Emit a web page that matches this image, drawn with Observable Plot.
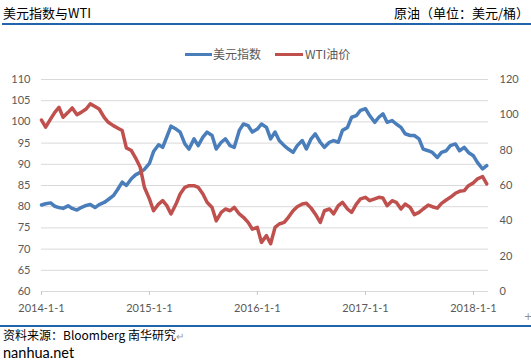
<!DOCTYPE html>
<html>
<head>
<meta charset="utf-8">
<script src="https://cdn.jsdelivr.net/npm/d3@7"></script>
<script src="https://cdn.jsdelivr.net/npm/@observablehq/plot@0.6"></script>
<style>
  html, body { margin: 0; padding: 0; background: #fff; }
  #wrap { position: relative; width: 531px; height: 362px; background: #fff; }
  #chart { position: absolute; left: 0; top: 0; }
  .t { position: absolute; white-space: nowrap; }
  .cjk { font-family: "Noto Sans CJK SC", sans-serif; }
  .bar { position: absolute; }
</style>
</head>
<body>
<div id="wrap">
  <div id="chart"></div>
  <div class="t cjk" style="left:3px;top:6px;font-size:13px;line-height:13px;color:#000;">美元指数与WTI</div>
  <div class="t cjk" style="right:2px;top:6px;font-size:13px;line-height:13px;color:#000;">原油（单位：美元/桶）</div>
  <div class="bar" style="left:2px;top:23px;width:529px;height:2px;background:#1f64ad;"></div>

  <div class="bar" style="left:185px;top:52.5px;width:27px;height:3px;background:#4a7ebb;"></div>
  <div class="t cjk" style="left:213px;top:48px;font-size:12px;line-height:12px;color:#595959;">美元指数</div>
  <div class="bar" style="left:275px;top:52.5px;width:28px;height:3px;background:#c0504d;"></div>
  <div class="t cjk" style="left:305px;top:48px;font-size:12px;line-height:12px;color:#595959;">WTI油价</div>

  <div class="t" style="left:524px;top:312px;font-size:10px;line-height:10px;color:#8c8c8c;font-family:'DejaVu Sans',sans-serif;">+</div>
  <div class="bar" style="left:0px;top:324.5px;width:531px;height:2px;background:#1f64ad;"></div>
  <div class="t cjk" style="left:3px;top:328.5px;font-size:12px;line-height:12px;color:#000;">资料来源：Bloomberg 南华研究<span style="color:#999;font-size:10px;">↵</span></div>
  <div class="t" style="left:3px;top:345.6px;font-size:14.5px;line-height:14.5px;color:#000;font-family:Lato,sans-serif;">nanhua.net</div>
</div>
<script>
// ---- data (semi-monthly readings) ----
const dates = [
 "2014-01-01","2014-01-15","2014-02-01","2014-02-15","2014-03-01","2014-03-15","2014-04-01","2014-04-15","2014-05-01","2014-05-15",
 "2014-06-01","2014-06-15","2014-07-01","2014-07-15","2014-08-01","2014-08-15","2014-09-01","2014-09-15","2014-10-01","2014-10-15",
 "2014-11-01","2014-11-15","2014-12-01","2014-12-15","2015-01-01","2015-01-15","2015-02-01","2015-02-15","2015-03-01","2015-03-15",
 "2015-04-01","2015-04-15","2015-05-01","2015-05-15","2015-06-01","2015-06-15","2015-07-01","2015-07-15","2015-08-01","2015-08-15",
 "2015-09-01","2015-09-15","2015-10-01","2015-10-15","2015-11-01","2015-11-15","2015-12-01","2015-12-15","2016-01-01","2016-01-15",
 "2016-02-01","2016-02-15","2016-03-01","2016-03-15","2016-04-01","2016-04-15","2016-05-01","2016-05-15","2016-06-01","2016-06-15",
 "2016-07-01","2016-07-15","2016-08-01","2016-08-15","2016-09-01","2016-09-15","2016-10-01","2016-10-15","2016-11-01","2016-11-15",
 "2016-12-01","2016-12-15","2017-01-01","2017-01-15","2017-02-01","2017-02-15","2017-03-01","2017-03-15","2017-04-01","2017-04-15",
 "2017-05-01","2017-05-15","2017-06-01","2017-06-15","2017-07-01","2017-07-15","2017-08-01","2017-08-15","2017-09-01","2017-09-15",
 "2017-10-01","2017-10-15","2017-11-01","2017-11-15","2017-12-01","2017-12-15","2018-01-01","2018-01-15","2018-02-01","2018-02-15"
];
const dollarIndex = [
 80.4,80.7,80.9,80.1,79.8,79.6,80.2,79.6,79.2,79.8,
 80.3,80.5,79.8,80.5,81.0,81.7,82.6,84.0,85.8,85.0,
 86.6,87.5,88.1,88.8,90.2,93.0,94.6,94.0,96.5,99.0,
 98.3,97.6,94.8,93.6,96.0,94.4,96.4,97.6,96.8,93.6,
 95.2,96.0,94.4,94.0,98.0,99.5,99.1,97.6,98.3,99.5,
 98.7,96.0,97.6,95.6,94.4,93.6,92.8,94.4,95.6,93.6,
 96.0,97.2,95.2,94.0,95.2,95.6,95.2,98.0,98.7,101.1,
 101.5,102.7,103.1,101.5,99.9,101.1,101.9,99.9,100.3,99.5,
 98.7,97.2,96.8,96.8,96.0,93.6,93.2,92.8,91.6,92.8,
 93.2,94.4,94.8,93.2,94.0,92.8,92.0,90.4,88.9,89.7
];
const wtiPrice = [
 97.0,93.0,97.7,101.4,104.3,98.6,101.4,103.9,100.1,101.4,
 103.3,106.2,104.7,103.3,98.6,95.8,93.9,92.6,91.1,81.3,
 79.8,75.7,70.3,59.0,52.4,45.7,49.5,51.4,48.6,43.9,
 49.5,55.2,59.0,59.9,59.9,59.0,55.2,50.5,47.6,40.0,
 44.8,46.7,45.7,47.6,43.9,42.0,39.1,35.3,36.3,27.8,
 31.6,27.0,36.3,38.2,39.1,42.0,45.7,48.0,49.5,49.9,
 47.2,43.9,39.1,45.7,46.7,43.9,48.6,50.5,46.7,44.8,
 49.5,52.4,53.3,51.4,52.4,53.3,52.9,48.6,51.4,50.5,
 46.7,49.5,47.6,43.5,44.8,46.7,48.9,48.0,47.2,49.9,
 51.8,53.3,55.6,56.7,57.1,59.9,61.5,63.8,65.1,60.9
];
const xTickDates = ["2014-01-01","2015-01-01","2016-01-01","2017-01-01","2018-01-01"];
const leftTicks = [60,65,70,75,80,85,90,95,100,105,110];
const rightTicks = [0,20,40,60,80,100,120];
const xDomain = ["2014-01-01","2018-02-21"];

// ---- build ----
const parse = d3.utcParse("%Y-%m-%d");
const leftMin = 60, leftMax = 110, rightMax = 120;
const toLeft = v => leftMin + v * (leftMax - leftMin) / rightMax;
const toRight = v => Math.round((v - leftMin) * rightMax / (leftMax - leftMin));

const dxyRows = dates.map((d, i) => ({date: parse(d), v: dollarIndex[i]}));
const wtiRows = dates.map((d, i) => ({date: parse(d), v: wtiPrice[i]}));

const chart = Plot.plot({
  width: 531,
  height: 362,
  marginTop: 79,
  marginBottom: 71,
  marginLeft: 41,
  marginRight: 43,
  x: {type: "utc", domain: xDomain.map(parse)},
  y: {domain: [leftMin, leftMax]},
  style: {fontFamily: "Lato, 'Liberation Sans', sans-serif", fontSize: "11px", color: "#595959", background: "transparent", overflow: "visible"},
  marks: [
    Plot.ruleY(leftTicks, {stroke: "#d9d9d9", strokeWidth: 1}),
    Plot.axisX(xTickDates.map(parse), {
      tickSize: 4, tickPadding: 9, stroke: "#c8c8c8", label: null,
      tickFormat: d => `${d.getUTCFullYear()}-${d.getUTCMonth() + 1}-${d.getUTCDate()}`
    }),
    Plot.axisY(leftTicks, {anchor: "left", tickSize: 0, tickPadding: 11, label: null, tickFormat: d => String(d)}),
    Plot.axisY(rightTicks.map(toLeft), {anchor: "right", tickSize: 0, tickPadding: 11, label: null, tickFormat: d => String(toRight(d))}),
    Plot.line(dxyRows, {x: "date", y: "v", stroke: "#4a7ebb", strokeWidth: 3.5, strokeLinejoin: "round", strokeLinecap: "round"}),
    Plot.line(wtiRows, {x: "date", y: d => toLeft(d.v), stroke: "#c0504d", strokeWidth: 3.5, strokeLinejoin: "round", strokeLinecap: "round"})
  ]
});
document.getElementById("chart").appendChild(chart);
</script>
</body>
</html>
